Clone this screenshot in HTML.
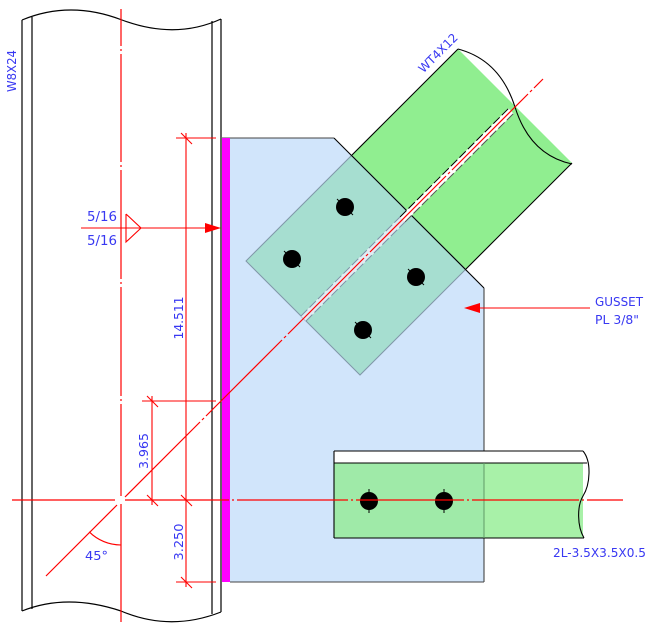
<!DOCTYPE html>
<html>
<head>
<meta charset="utf-8">
<style>
  html,body{margin:0;padding:0;background:#fff;}
  svg{display:block;}
  text{font-family:"DejaVu Sans","Liberation Sans",sans-serif;fill:#3838f2;font-size:12px;}
</style>
</head>
<body>
<svg width="651" height="631" viewBox="0 0 651 631" xmlns="http://www.w3.org/2000/svg">
  <rect x="0" y="0" width="651" height="631" fill="#fff"/>

  <!-- Column W8X24 -->
  <g stroke="#000" stroke-width="1.2" fill="none">
    <path d="M22,20 Q70,0 122,20 Q175,40 221,19"/>
    <path d="M22,611 Q67,593 121,611 Q170,632 221,612"/>
    <line x1="22" y1="20" x2="22" y2="611"/>
    <line x1="32" y1="17" x2="32" y2="609"/>
    <line x1="212" y1="21" x2="212" y2="614"/>
    <line x1="221" y1="19" x2="221" y2="612"/>
  </g>

  <!-- Gusset plate -->
  <polygon points="222,138 334,138 484,288 484,582 222,582" fill="#d1e5fb"/>
  <g stroke="#444" stroke-width="1.1" fill="none">
    <line x1="222" y1="138" x2="334" y2="138"/>
    <line x1="484" y1="288" x2="484" y2="582"/>
    <line x1="230" y1="582" x2="484" y2="582"/>
  </g>

  <!-- WT overlap on gusset (teal) -->
  <polygon points="352,155 466,269 360,375 246,261" fill="#a6ded0" stroke="#8197a8" stroke-width="1"/>

  <!-- WT4X12 outside gusset -->
  <polygon points="352,155 458,49 572,163 466,269" fill="#90ee90"/>
  <g stroke="#000" stroke-width="1.1" fill="none">
    <line x1="352" y1="155" x2="458" y2="49"/>
    <line x1="466" y1="269" x2="572" y2="163"/>
    <line x1="334" y1="138" x2="484" y2="288"/>
    <path d="M458,49 Q500,60 515,107 Q530,155 572,164"/>
  </g>

  <!-- WT stem band -->
  <polygon points="301,316 306,321 513.5,113.5 508.5,108.5" fill="#ffffff"/>
  <polygon points="301,316 306,321 405,222 400,217" fill="#e2ecf4"/>
  <g fill="none" stroke-width="1">
    <line x1="400" y1="217" x2="508.5" y2="108.5" stroke="#000" stroke-dasharray="9,3"/>
    <line x1="405" y1="222" x2="513.5" y2="113.5" stroke="#555" stroke-dasharray="9,3"/>
    <line x1="301" y1="316" x2="400" y2="217" stroke="#7e92a6" stroke-dasharray="9,3"/>
    <line x1="306" y1="321" x2="405" y2="222" stroke="#7e92a6" stroke-dasharray="9,3"/>
  </g>

  <!-- Gusset bolts -->
  <g fill="#000">
    <circle cx="345" cy="207" r="9"/>
    <circle cx="292" cy="259" r="9"/>
    <circle cx="416" cy="277" r="9"/>
    <circle cx="363" cy="330" r="9"/>
  </g>
  <g stroke="#000" stroke-width="1">
    <line x1="337" y1="215" x2="353" y2="199" transform="rotate(90 345 207)"/>
    <line x1="284" y1="267" x2="300" y2="251" transform="rotate(90 292 259)"/>
    <line x1="408" y1="285" x2="424" y2="269" transform="rotate(90 416 277)"/>
    <line x1="355" y1="338" x2="371" y2="322" transform="rotate(90 363 330)"/>
  </g>

  <!-- Double angle 2L -->
  <rect x="334" y="451" width="249" height="12" fill="#fff"/>
  <rect x="334" y="463" width="150" height="75" fill="#9feaa8"/>
  <rect x="484" y="463" width="99" height="75" fill="#a8f1a8"/>
  <g stroke="#000" stroke-width="1.1" fill="none">
    <line x1="334" y1="451" x2="583" y2="451"/>
    <line x1="334" y1="463" x2="587" y2="463"/>
    <line x1="334" y1="538" x2="584" y2="538"/>
    <line x1="334" y1="451" x2="334" y2="538"/>
    <path d="M583,451 C592,462 590,485 583,496 C577,506 577,526 584,538"/>
  </g>
  <line x1="484" y1="463" x2="484" y2="538" stroke="#5f9a66" stroke-width="1"/>
  <g fill="#000">
    <circle cx="369" cy="501" r="9"/>
    <circle cx="444" cy="501" r="9"/>
  </g>
  <g stroke="#000" stroke-width="1">
    <line x1="369" y1="489" x2="369" y2="513"/>
    <line x1="444" y1="489" x2="444" y2="513"/>
  </g>

  <!-- Weld (magenta) -->
  <rect x="222" y="138" width="8" height="444" fill="#ff00ff"/>

  <!-- Red centerlines -->
  <g stroke="#ff0000" stroke-width="1.2" fill="none">
    <path d="M121,9 V46 M121,49 V51 M121,54 V162 M121,165 V167 M121,170 V279 M121,282 V284 M121,287 V396 M121,399 V401 M121,404 V496 M121,504 V622"/>
    <path d="M12,500 H115 M125,500 H229 M232,500 H234 M237,500 H348 M351,500 H353 M356,500 H464 M467,500 H469 M472,500 H579 M582,500 H584 M587,500 H623"/>
    <path d="M46,576 L117,505 M125,497 L200,422 M202,420 L204,418 M206,416 L282,340 M284,338 L286,336 M288,334 L364,258 M366,256 L368,254 M370,252 L446,176 M448,174 L450,172 M452,170 L528,94 M530,92 L532,90 M534,88 L543,79"/>
  </g>

  <!-- Dimensions -->
  <g stroke="#ff0000" stroke-width="1.1" fill="none">
    <line x1="176" y1="138" x2="216" y2="138"/>
    <line x1="176" y1="582" x2="216" y2="582"/>
    <line x1="142" y1="401" x2="216" y2="401"/>
    <line x1="186" y1="133" x2="186" y2="587"/>
    <line x1="152" y1="396" x2="152" y2="505"/>
    <line x1="181" y1="133" x2="192" y2="144"/>
    <line x1="181" y1="495" x2="192" y2="506"/>
    <line x1="181" y1="577" x2="192" y2="588"/>
    <line x1="147" y1="396" x2="158" y2="407"/>
    <line x1="147" y1="495" x2="158" y2="506"/>
    <path d="M89.2,531.8 A45,45 0 0 0 121,545"/>
    <line x1="81" y1="228" x2="206" y2="228"/>
    <polyline points="126,214 141,228 126,242 126,214"/>
    <line x1="478" y1="308" x2="590" y2="308"/>
  </g>
  <polygon points="205,223 221,228 205,233" fill="#ff0000"/>
  <polygon points="464,308 480,303 480,313" fill="#ff0000"/>

  <!-- Labels -->
  <text transform="translate(16,71) rotate(-90)" text-anchor="middle" textLength="42" lengthAdjust="spacingAndGlyphs">W8X24</text>
  <text transform="translate(441,56) rotate(-45)" text-anchor="middle" textLength="50" lengthAdjust="spacingAndGlyphs">WT4X12</text>
  <text x="87" y="221" style="font-size:13px" textLength="30" lengthAdjust="spacingAndGlyphs">5/16</text>
  <text x="87" y="245" style="font-size:13px" textLength="30" lengthAdjust="spacingAndGlyphs">5/16</text>
  <text transform="translate(183,318) rotate(-90)" text-anchor="middle" textLength="43" lengthAdjust="spacingAndGlyphs">14.511</text>
  <text transform="translate(148,451) rotate(-90)" text-anchor="middle" textLength="36" lengthAdjust="spacingAndGlyphs">3.965</text>
  <text transform="translate(183,542) rotate(-90)" text-anchor="middle" textLength="37" lengthAdjust="spacingAndGlyphs">3.250</text>
  <text x="85" y="560" textLength="23" lengthAdjust="spacingAndGlyphs">45°</text>
  <text x="595" y="306" textLength="48" lengthAdjust="spacingAndGlyphs">GUSSET</text>
  <text x="595" y="324" textLength="44" lengthAdjust="spacingAndGlyphs">PL 3/8"</text>
  <text x="553" y="557" textLength="93" lengthAdjust="spacingAndGlyphs">2L-3.5X3.5X0.5</text>
</svg>
</body>
</html>
